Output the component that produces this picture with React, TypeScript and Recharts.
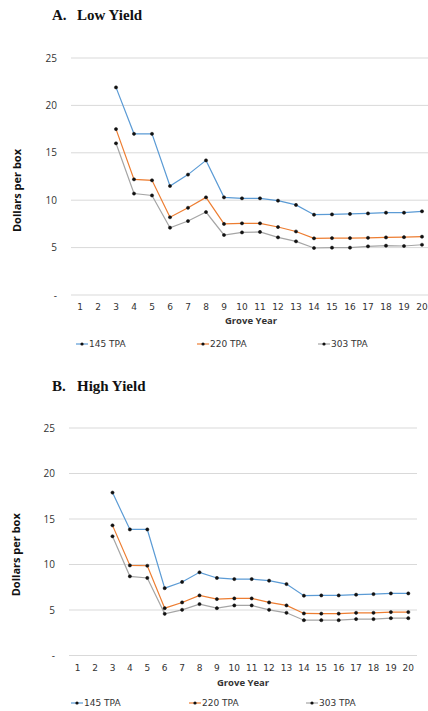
import { LineChart, Line, XAxis, YAxis, CartesianGrid } from 'recharts';

// grove years 1..20 (x axis categories)
const groveYears = ['1', '2', '3', '4', '5', '6', '7', '8', '9', '10', '11', '12', '13', '14', '15', '16', '17', '18', '19', '20'];

const seriesNames = ['145 TPA', '220 TPA', '303 TPA'];
const seriesColors = ['#5B9BD5', '#ED7D31', '#A5A5A5'];

const yTicks = [0, 5, 10, 15, 20, 25];
const yTickLabels = ['-', '5', '10', '15', '20', '25'];

// A. Low Yield — dollars per box
const low145 = [null, null, 21.9, 17.0, 17.0, 11.5, 12.7, 14.2, 10.3, 10.2, 10.2, 9.95, 9.5, 8.47, 8.5, 8.55, 8.6, 8.68, 8.68, 8.83];
const low220 = [null, null, 17.5, 12.2, 12.1, 8.2, 9.2, 10.3, 7.5, 7.56, 7.56, 7.17, 6.7, 5.98, 6.0, 6.0, 6.03, 6.07, 6.1, 6.15];
const low303 = [null, null, 16.0, 10.7, 10.5, 7.1, 7.8, 8.75, 6.33, 6.6, 6.65, 6.08, 5.66, 4.96, 4.99, 4.99, 5.13, 5.2, 5.17, 5.3];

// B. High Yield — dollars per box
const high145 = [null, null, 17.9, 13.85, 13.85, 7.4, 8.08, 9.14, 8.52, 8.4, 8.4, 8.22, 7.85, 6.57, 6.6, 6.6, 6.68, 6.75, 6.82, 6.82];
const high220 = [null, null, 14.3, 9.9, 9.86, 5.2, 5.83, 6.6, 6.2, 6.27, 6.27, 5.83, 5.5, 4.62, 4.6, 4.6, 4.69, 4.69, 4.77, 4.77];
const high303 = [null, null, 13.1, 8.7, 8.52, 4.58, 5.02, 5.65, 5.2, 5.5, 5.5, 5.02, 4.69, 3.88, 3.88, 3.88, 4.0, 4.0, 4.1, 4.1];

const buildRows = (a: (number | null)[], b: (number | null)[], c: (number | null)[]) =>
  groveYears.map((year, i) => ({ year, s0: a[i], s1: b[i], s2: c[i] }));

const lowData = buildRows(low145, low220, low303);
const highData = buildRows(high145, high220, high303);

const tickFont = { fontFamily: 'Open Sans', fontSize: 10, fill: '#333' };
const xTickFont = { fontFamily: 'DejaVu Sans', fontSize: 9, fill: '#333' };
const labelFont = { fontFamily: 'Open Sans', fontSize: 11, fontWeight: 700, fill: '#111' };

type PanelProps = {
  data: ReturnType<typeof buildRows>;
  width: number;
  height: number;
  margin: { top: number; right: number; bottom: number; left: number };
  yAxisWidth: number;
  xPad: number;
  yLabelDx: number;
  yLabelDy: number;
  xTickMargin: number;
  xLabelOffset: number;
};

function Panel({ data, width, height, margin, yAxisWidth, xPad, yLabelDx, yLabelDy, xTickMargin, xLabelOffset }: PanelProps) {
  return (
    <LineChart width={width} height={height} data={data} margin={margin}>
      <CartesianGrid vertical={false} stroke="#d9d9d9" />
      <XAxis
        dataKey="year"
        axisLine={false}
        tickLine={false}
        tickSize={0}
        tickMargin={xTickMargin}
        interval={0}
        height={31}
        padding={{ left: xPad, right: xPad }}
        tick={xTickFont}
        label={{ value: 'Grove Year', position: 'insideTop', offset: xLabelOffset, style: { ...labelFont, fontSize: 9.5, fill: '#333' } }}
      />
      <YAxis
        width={yAxisWidth}
        domain={[0, 25]}
        ticks={yTicks}
        axisLine={false}
        tickLine={false}
        tickSize={0}
        tickMargin={14}
        tick={tickFont}
        tickFormatter={(v: number) => yTickLabels[yTicks.indexOf(v)]}
        label={{ value: 'Dollars per box', angle: -90, position: 'insideLeft', offset: 0, dx: yLabelDx, dy: yLabelDy, style: { ...labelFont, textAnchor: 'middle' } }}
      />
      {['s0', 's1', 's2'].map((key, i) => (
        <Line
          key={key}
          type="linear"
          dataKey={key}
          name={seriesNames[i]}
          stroke={seriesColors[i]}
          strokeWidth={1.2}
          dot={{ r: 1.6, fill: '#111', stroke: '#111', strokeWidth: 0.5 }}
          isAnimationActive={false}
        />
      ))}
    </LineChart>
  );
}

function Title({ top, letter, text }: { top: number; letter: string; text: string }) {
  const st = { position: 'absolute' as const, top, fontFamily: 'Liberation Serif', fontWeight: 700, fontSize: 15, lineHeight: '16px', color: '#111' };
  return (
    <>
      <div style={{ ...st, left: 52 }}>{letter}</div>
      <div style={{ ...st, left: 77 }}>{text}</div>
    </>
  );
}

function LegendRow({ top, lefts }: { top: number; lefts: number[] }) {
  return (
    <>
      {seriesNames.map((name, i) => (
        <div key={name} style={{ position: 'absolute', top, left: lefts[i], display: 'flex', alignItems: 'center', fontFamily: 'DejaVu Sans', fontSize: 9, lineHeight: '12px', color: '#333' }}>
          <svg width={12} height={12} style={{ marginRight: 1 }}>
            <line x1={0} y1={6} x2={12} y2={6} stroke={seriesColors[i]} strokeWidth={1.2} />
            <circle cx={6} cy={6} r={1.6} fill="#111" />
          </svg>
          {name}
        </div>
      ))}
    </>
  );
}

export default function App() {
  return (
    <div style={{ position: 'absolute', left: 0, top: 0, width: 428, height: 711, overflow: 'hidden', background: '#fff' }}>
      <Title top={7} letter="A." text="Low Yield" />
      <div style={{ position: 'absolute', left: 0, top: 0 }}>
        <Panel
          data={lowData}
          width={440}
          height={340}
          margin={{ top: 58, right: 9, bottom: 14, left: 0 }}
          yAxisWidth={71}
          xPad={9}
          yLabelDx={17}
          yLabelDy={14}
          xTickMargin={9}
          xLabelOffset={22}
        />
      </div>
      <LegendRow top={338} lefts={[76, 197, 318]} />

      <Title top={378} letter="B." text="High Yield" />
      <div style={{ position: 'absolute', left: 0, top: 370 }}>
        <Panel
          data={highData}
          width={428}
          height={341}
          margin={{ top: 58, right: 11, bottom: 24.5, left: 0 }}
          yAxisWidth={69}
          xPad={8.7}
          yLabelDx={16}
          yLabelDy={13}
          xTickMargin={9.5}
          xLabelOffset={23.5}
        />
      </div>
      <LegendRow top={697} lefts={[71, 189, 306]} />
    </div>
  );
}
